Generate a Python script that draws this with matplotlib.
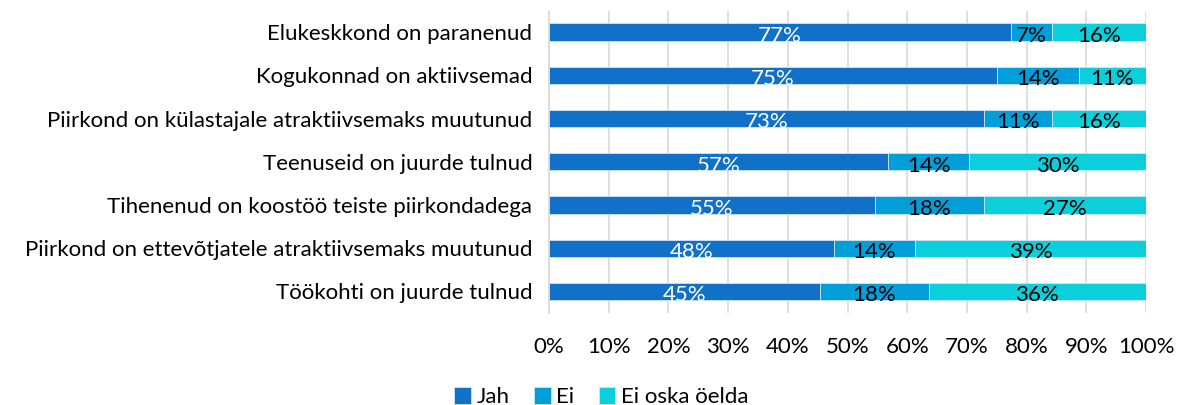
import matplotlib
matplotlib.use("Agg")
import matplotlib.pyplot as plt
import numpy as np

plt.rcParams['font.family'] = ['Lato', 'DejaVu Sans']

# andmed (ülevalt alla)
categories = ["Elukeskkond on paranenud",
              "Kogukonnad on aktiivsemad",
              "Piirkond on külastajale atraktiivsemaks muutunud",
              "Teenuseid on juurde tulnud",
              "Tihenenud on koostöö teiste piirkondadega",
              "Piirkond on ettevõtjatele atraktiivsemaks muutunud",
              "Töökohti on juurde tulnud"]
jah = [77.4, 75.0, 72.8, 56.8, 54.6, 47.7, 45.4]
ei = [6.8, 13.7, 11.4, 13.6, 18.2, 13.6, 18.2]
ei_oska = [15.8, 11.3, 15.8, 29.6, 27.2, 38.7, 36.4]
series_names = ["Jah", "Ei", "Ei oska öelda"]
colors = ["#1170c8", "#009fda", "#0bcfda"]
text_colors = ["white", "black", "black"]
xticks = [0, 10, 20, 30, 40, 50, 60, 70, 80, 90, 100]

fs = 16

fig = plt.figure(figsize=(11.77, 4.05), dpi=100)
ax = fig.add_axes([549/1177, 1 - 313/405, (1146-549)/1177, (313-10.5)/405])

y = np.arange(len(categories))
left = np.zeros(len(categories))
for vals, name, col, tcol in zip([jah, ei, ei_oska], series_names, colors, text_colors):
    vals = np.array(vals)
    ax.barh(y, vals, left=left, height=0.4, color=col, label=name,
            edgecolor="#d0e4f4", linewidth=0.6, zorder=3)
    # protsendid ribade keskele
    for yi, l, v in zip(y, left, vals):
        ax.text(l + v/2, yi + 0.09, f"{round(v)}%", ha="center", va="center",
                color=tcol, fontsize=fs, zorder=4)
    left += vals

ax.set_ylim(len(categories) - 0.5, -0.5)
ax.set_xlim(0, 100)
ax.set_yticks(y)
ax.set_yticklabels(categories, fontsize=fs)
ax.set_xticks(xticks)
ax.set_xticklabels([f"{t}%" for t in xticks], fontsize=fs)
ax.tick_params(axis="both", length=0)
ax.tick_params(axis="x", pad=17)
ax.tick_params(axis="y", pad=12)
ax.grid(axis="x", color="#d9d9d9", linewidth=1.2, zorder=0)
for s in ["top", "right", "bottom"]:
    ax.spines[s].set_visible(False)
ax.spines["left"].set_color("#d9d9d9")
ax.spines["left"].set_linewidth(1.2)

fig.legend(loc="lower center", bbox_to_anchor=(0.511, -0.055), ncol=3, frameon=False,
           fontsize=fs, handlelength=0.75, handleheight=0.75, handletextpad=0.25,
           columnspacing=1.1)

fig.savefig("out.png", dpi=100)
